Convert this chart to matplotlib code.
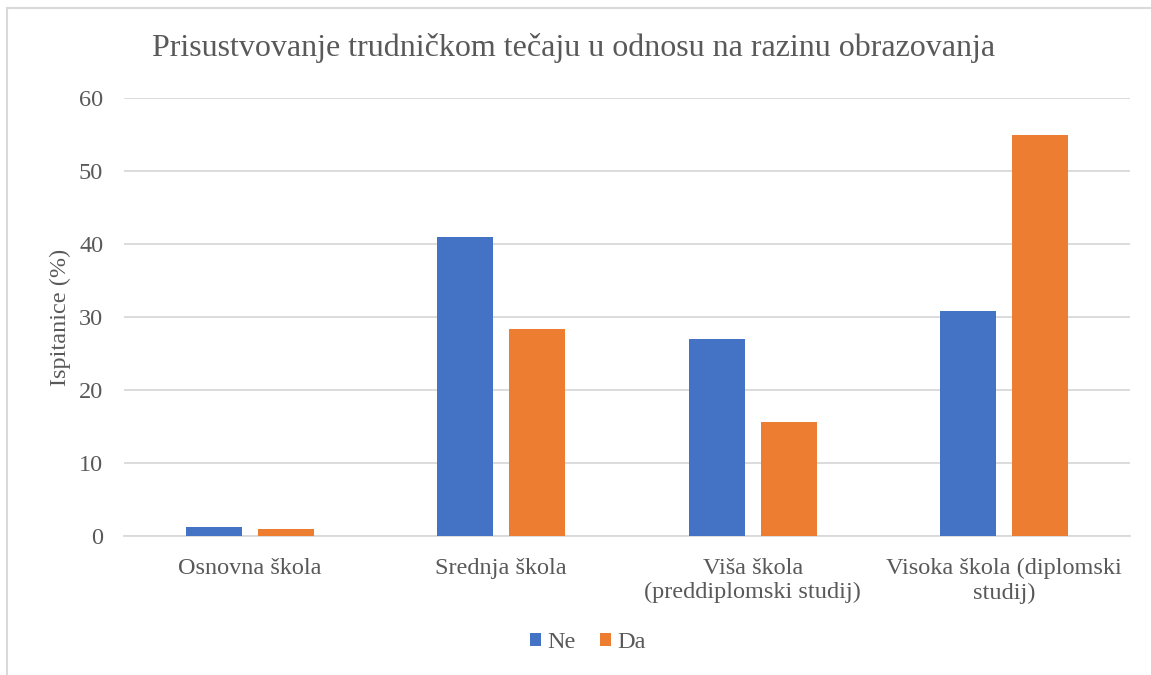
import numpy as np
import matplotlib.pyplot as plt
from matplotlib.lines import Line2D

plt.rcParams['font.family'] = ['Liberation Serif', 'DejaVu Serif']

# data
categories = ['Osnovna škola', 'Srednja škola', 'Viša škola\n(preddiplomski studij)',
              'Visoka škola (diplomski\nstudij)']
ne_vals = [1.3, 41.0, 27.0, 30.8]
da_vals = [0.9, 28.4, 15.6, 54.9]
series_names = ['Ne', 'Da']
yticks = [0, 10, 20, 30, 40, 50, 60]

blue = '#4472C4'
orange = '#ED7D31'
txt = '#595959'
grid = '#D9D9D9'

fig = plt.figure(figsize=(11.51, 6.75), dpi=100)
ax = fig.add_axes([0.1077, 0.2059, 0.8741, 0.6489])

# chart border (only top and left visible in the reference)
fig.lines.append(Line2D([7.5 / 1151, 1.0], [1 - 8 / 675] * 2, transform=fig.transFigure,
                        color=grid, linewidth=1.5))
fig.lines.append(Line2D([7.5 / 1151] * 2, [0, 1 - 8 / 675], transform=fig.transFigure,
                        color=grid, linewidth=1.5))

x = np.arange(len(categories))
w = 0.222
off = 0.143
ax.bar(x - off, ne_vals, width=w, color=blue, label=series_names[0], zorder=3)
ax.bar(x + off, da_vals, width=w, color=orange, label=series_names[1], zorder=3)

ax.set_xlim(-0.5, len(categories) - 0.5)
ax.set_ylim(0, 60)
ax.set_yticks(yticks)
ax.yaxis.grid(True, color=grid, linewidth=1.3, zorder=0)
ax.set_axisbelow(True)
for s in ['top', 'right', 'left']:
    ax.spines[s].set_visible(False)
ax.spines['bottom'].set_color(grid)
ax.spines['bottom'].set_linewidth(1.3)
ax.tick_params(axis='both', length=0, colors=txt, labelsize=17.5)
ax.tick_params(axis='y', pad=15)
ax.tick_params(axis='x', pad=16)
ax.set_xticks(x)
ax.set_xticklabels(categories, linespacing=1.18)

ax.set_ylabel('Ispitanice (%)', color=txt, fontsize=17.5, labelpad=6)
fig.text(0.5 - 2 / 1151, 1 - 48 / 675,
         'Prisustvovanje trudničkom tečaju u odnosu na razinu obrazovanja',
         ha='center', va='center', fontsize=23, color=txt)

ax.legend(loc='center', bbox_to_anchor=(588 / 1151, 1 - 643 / 675),
          bbox_transform=fig.transFigure, ncol=2, frameon=False, fontsize=17.5,
          handlelength=0.45, handleheight=0.45, handletextpad=0.25, columnspacing=1.0,
          labelcolor=txt)

fig.savefig('out.png', dpi=100)
